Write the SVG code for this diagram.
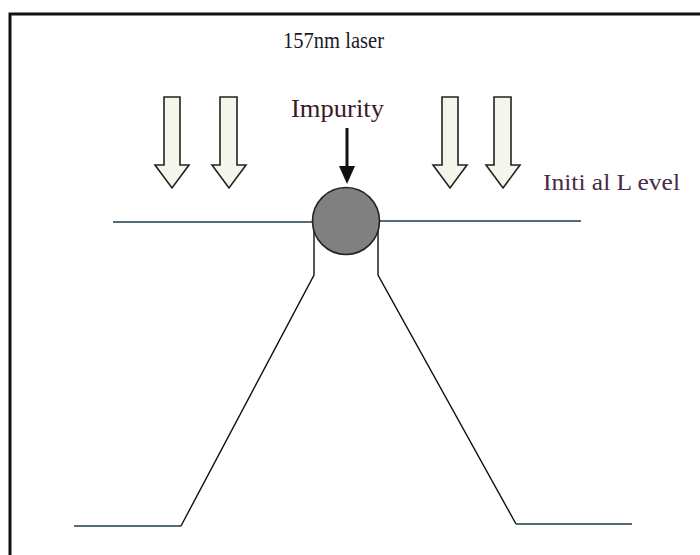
<svg xmlns="http://www.w3.org/2000/svg" width="700" height="555" viewBox="0 0 700 555">
<style>
.lvl{stroke:#1e3c48;stroke-width:1.6;fill:none}
.wall{stroke:#111;stroke-width:1.4;fill:none}
.beam{fill:#f5f5ec;stroke:#222;stroke-width:1.6;stroke-linejoin:miter}
.t{font-family:"Liberation Serif",serif}
</style>
<rect width="700" height="555" fill="#fff"/>
<path d="M10,555 V14 H700" fill="none" stroke="#111" stroke-width="3"/>
<g id="laser-beams">
<path class="beam" d="M164,97 H180 V165 H189 L172,188 L155,165 H164 Z"/>
<path class="beam" d="M220,97 H237 V165 H246 L229,188 L212,165 H220 Z"/>
<path class="beam" d="M442,97 H458 V165 H467 L450,188 L433,165 H442 Z"/>
<path class="beam" d="M494,97 H511 V165 H520 L503,188 L486,165 H494 Z"/>
</g>
<g id="connectors">
<line class="lvl" x1="113" y1="222" x2="313" y2="222"/>
<line class="lvl" x1="379" y1="221" x2="581" y2="221"/>
<line class="lvl" x1="74" y1="526" x2="181" y2="526"/>
<line class="lvl" x1="516" y1="524" x2="632" y2="524"/>
<polyline class="wall" points="314,222 314,275 181,526"/>
<polyline class="wall" points="378,221 378,275 516,524"/>
<line x1="347" y1="128" x2="347" y2="170" stroke="#111" stroke-width="3"/>
<path d="M339,166 H355 L347,184 Z" fill="#111"/>
</g>
<g id="impurity">
<circle cx="346" cy="221" r="33.5" fill="#808080" stroke="#222" stroke-width="1.6"/>
</g>
<text class="t" x="283" y="48" font-size="24" textLength="101" lengthAdjust="spacingAndGlyphs" fill="#1a1a2a">157nm laser</text>
<text class="t" x="291" y="117" font-size="26" textLength="93" lengthAdjust="spacingAndGlyphs" fill="#3a1a28">Impurity</text>
<text class="t" x="543" y="190" font-size="24" textLength="137" lengthAdjust="spacingAndGlyphs" fill="#4a2a4a">Initi al L evel</text>
</svg>
